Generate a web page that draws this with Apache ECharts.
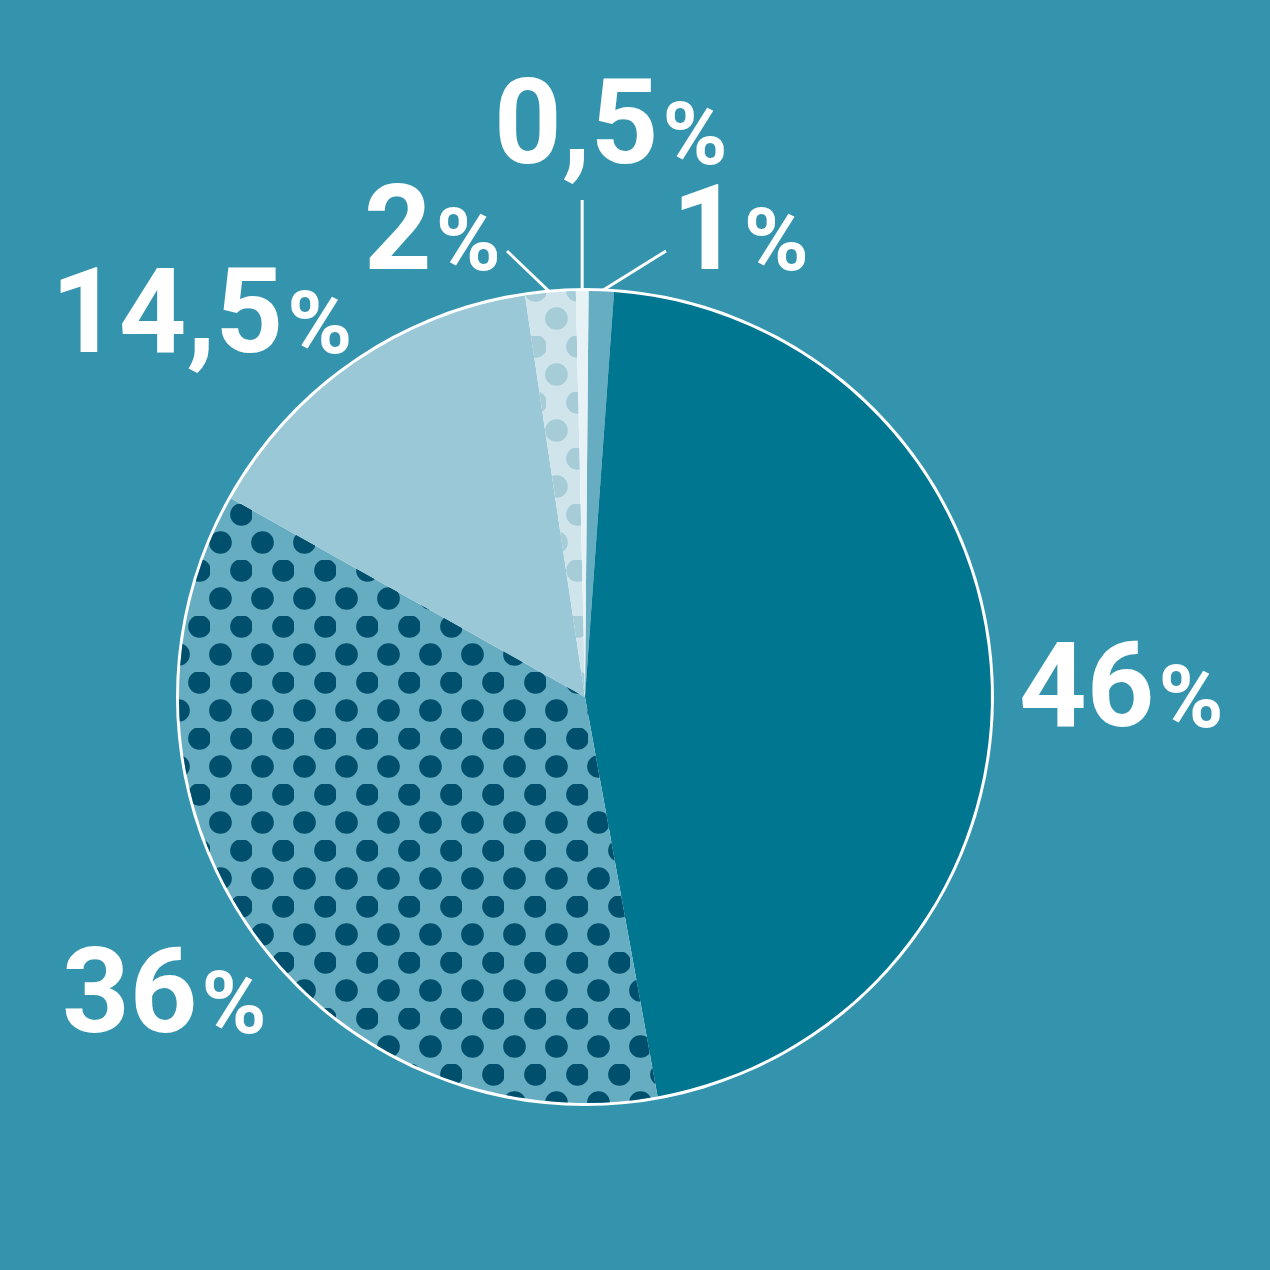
<!DOCTYPE html>
<html><head><meta charset="utf-8">
<script src="https://cdn.jsdelivr.net/npm/echarts@6/dist/echarts.min.js"></script>
<style>html,body{margin:0;padding:0;background:#3494ad;} #c{width:1270px;height:1270px;}</style>
</head><body><div id="c"></div>
<script>
// ---- data ----
const categories = ['Segment 1', 'Segment 2', 'Segment 3', 'Segment 4', 'Segment 5', 'Segment 6'];
const values = [1, 46, 36, 14.5, 2, 0.5];

// ---- style / layout config ----
const BG = '#3494ad';
const CX = 585, CY = 697, R = 406;
const fills = ['#67adc2', '#007691', '#67adc2', '#9ac8d6', '#cfe4eb', '#e6f2f6'];
const dotColors = [null, null, '#004f6c', null, '#a6ccd8', null];
const showLine = [true, false, false, false, true, true];
// label anchor: [left x, bottom y]
const labelPos = [[672, 298], [1019, 755], [62, 1061], [51, 381], [364, 298], [494, 192]];
const lineEnd = [[666, 251], null, null, null, [507, 251], 'v'];

function labelText(v) { return String(v).replace('.', ','); }

const chart = echarts.init(document.getElementById('c'), null, {renderer: 'canvas'});
const pieData = values.map((v, i) => {
  const item = {
    name: categories[i],
    value: v,
    itemStyle: { color: fills[i] },
    label: { position: showLine[i] ? 'outside' : 'inside' },
    labelLine: { show: showLine[i] }
  };
  if (dotColors[i]) {
    item.itemStyle.decal = {
      symbol: 'circle', symbolSize: 1.08, color: dotColors[i],
      dashArrayX: [[21, 21], [0, 21, 21, 0]],
      dashArrayY: [21, 7]
    };
  }
  return item;
});

chart.setOption({
  backgroundColor: BG,
  animation: false,
  series: [
    {
      type: 'pie', silent: true, center: [CX, CY], radius: [0, R + 3],
      label: { show: false }, labelLine: { show: false },
      itemStyle: { color: '#ffffff' }, data: [{ value: 1 }], z: 1
    },
    {
      type: 'pie', silent: true, center: [CX, CY], radius: [0, R],
      startAngle: 89.5, clockwise: true, z: 2,
      label: {
        show: true, overflow: 'none',
        formatter: p => '{num|' + labelText(p.value) + '}{pct|%}',
        rich: {
          num: { fontFamily: 'Roboto', fontWeight: 'bold', fontSize: 118, color: '#fff', verticalAlign: 'bottom', lineHeight: 118 },
          pct: { fontFamily: 'Roboto', fontWeight: 'bold', fontSize: 88, color: '#fff', verticalAlign: 'bottom', lineHeight: 88, padding: [0, 0, 6, 4] }
        }
      },
      labelLine: { lineStyle: { color: '#ffffff', width: 3 }, length: 30, length2: 10 },
      labelLayout: function (p) {
        const i = p.dataIndex;
        const out = { x: labelPos[i][0], y: labelPos[i][1], align: 'left', verticalAlign: 'bottom' };
        if (lineEnd[i] && p.labelLinePoints) {
          const s = p.labelLinePoints[0];
          const e = lineEnd[i] === 'v' ? [s[0], 200] : lineEnd[i];
          out.labelLinePoints = [s, e, e];
        }
        return out;
      },
      data: pieData
    }
  ]
});
</script></body></html>
